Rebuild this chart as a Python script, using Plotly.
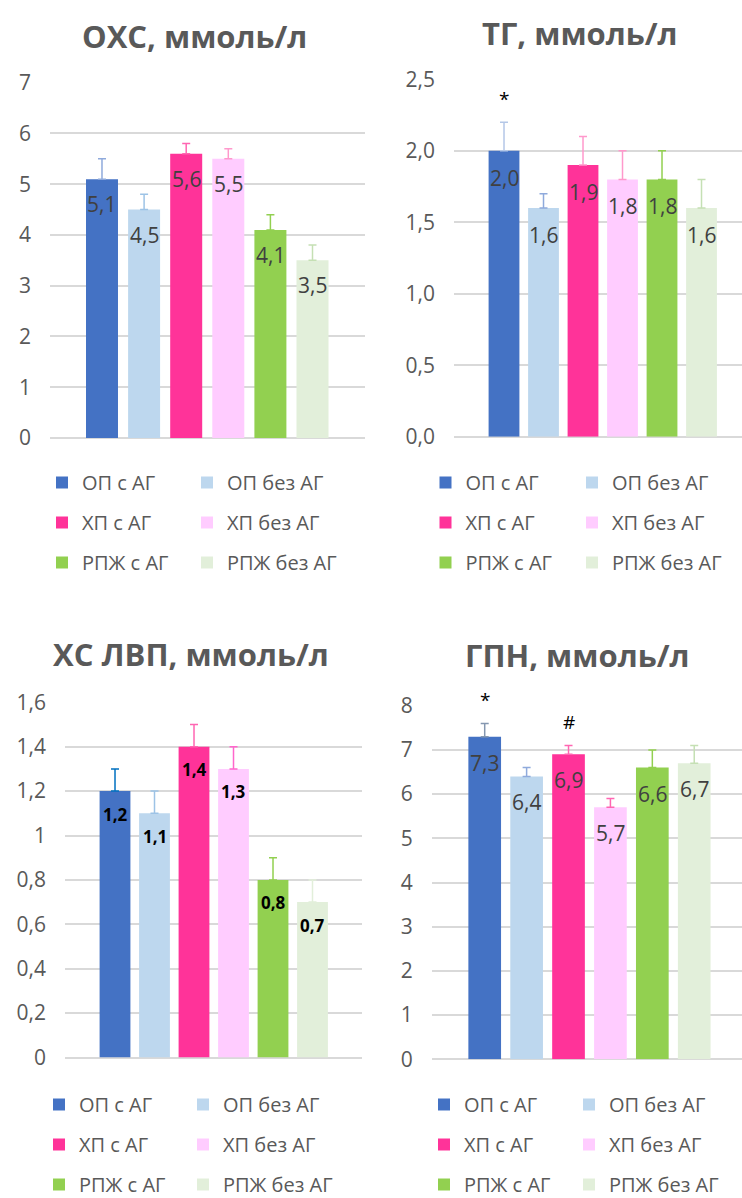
import plotly.graph_objects as go

# ---------------- data ----------------
series_names = ["ОП с АГ", "ОП без АГ", "ХП с АГ", "ХП без АГ", "РПЖ с АГ", "РПЖ без АГ"]
bar_colors = ["#4472C4", "#BDD7EE", "#FF3399", "#FFCCFF", "#92D050", "#E2EFDA"]

ohs_values = [5.1, 4.5, 5.6, 5.5, 4.1, 3.5]
ohs_err = [0.4, 0.3, 0.2, 0.2, 0.3, 0.3]
ohs_marks = ["", "", "", "", "", ""]

tg_values = [2.0, 1.6, 1.9, 1.8, 1.8, 1.6]
tg_err = [0.2, 0.1, 0.2, 0.2, 0.2, 0.2]
tg_marks = ["*", "", "", "", "", ""]

hdl_values = [1.2, 1.1, 1.4, 1.3, 0.8, 0.7]
hdl_err = [0.1, 0.1, 0.1, 0.1, 0.1, 0.1]
hdl_marks = ["", "", "", "", "", ""]

gpn_values = [7.3, 6.4, 6.9, 5.7, 6.6, 6.7]
gpn_err = [0.3, 0.2, 0.2, 0.2, 0.4, 0.4]
gpn_marks = ["*", "", "#", "", "", ""]

ohs_ticks = [0, 1, 2, 3, 4, 5, 6, 7]
ohs_ticktext = ["0", "1", "2", "3", "4", "5", "6", "7"]
tg_ticks = [0, 0.5, 1.0, 1.5, 2.0, 2.5]
tg_ticktext = ["0,0", "0,5", "1,0", "1,5", "2,0", "2,5"]
hdl_ticks = [0, 0.2, 0.4, 0.6, 0.8, 1.0, 1.2, 1.4, 1.6]
hdl_ticktext = ["0", "0,2", "0,4", "0,6", "0,8", "1", "1,2", "1,4", "1,6"]
gpn_ticks = [0, 1, 2, 3, 4, 5, 6, 7, 8]
gpn_ticktext = ["0", "1", "2", "3", "4", "5", "6", "7", "8"]

titles = ["ОХС, ммоль/л", "ТГ, ммоль/л", "ХС ЛВП, ммоль/л", "ГПН, ммоль/л"]

# ---------------- layout config ----------------
W, H = 742, 1198
FONT = "Open Sans"
GRAY = "#595959"

def px_x(p):
    return p / W

def px_y(p):
    return 1 - p / H

panels = [
    dict(values=ohs_values, err=ohs_err, marks=ohs_marks, ticks=ohs_ticks, ticktext=ohs_ticktext,
         yrange=[0, 7], xdom=[px_x(50), px_x(365)], ydom=[px_y(438), px_y(82.7)],
         xrange=[-1.235, 6.247], width=0.76,
         err_colors=["#8FAADC", "#9DC3E6", "#FF66B2", "#FF99CC", "#92D050", "#C5E0B4"],
         lbl=dict(size=21, color="#404040", bold=False, shift=-25),
         title_xy=(194, 36), legend_x=(42, 187), legend_y=463),
    dict(values=tg_values, err=tg_err, marks=tg_marks, ticks=tg_ticks, ticktext=tg_ticktext,
         yrange=[0, 2.5], xdom=[px_x(454), 1.0], ydom=[px_y(436.8), px_y(79.3)],
         xrange=[-1.266, 6.025], width=0.78,
         err_colors=["#B4C7E7", "#8FAADC", "#FF99CC", "#FF99CC", "#92D050", "#C5E0B4"],
         lbl=dict(size=21, color="#404040", bold=False, shift=-27),
         title_xy=(580, 33), legend_x=(425.5, 572), legend_y=463),
    dict(values=hdl_values, err=hdl_err, marks=hdl_marks, ticks=hdl_ticks, ticktext=hdl_ticktext,
         yrange=[0, 1.6], xdom=[px_x(65), px_x(362)], ydom=[px_y(1057.5), px_y(702.3)],
         xrange=[-1.266, 6.253], width=0.78,
         err_colors=["#0070C0", "#9DC3E6", "#FF66B2", "#FF66CC", "#92D050", "#E2EFDA"],
         lbl=dict(size=17, color="#000000", bold=True, shift=-23),
         title_xy=(191, 654), legend_x=(39, 183), legend_y=1085),
    dict(values=gpn_values, err=gpn_err, marks=gpn_marks, ticks=gpn_ticks, ticktext=gpn_ticktext,
         yrange=[0, 8], xdom=[px_x(431.7), 1.0], ydom=[px_y(1059.3), px_y(705.7)],
         xrange=[-1.265, 6.14], width=0.78,
         err_colors=["#8497B0", "#8FAADC", "#FF66B2", "#FF66B2", "#92D050", "#C5E0B4"],
         lbl=dict(size=21, color="#404040", bold=False, shift=-26),
         title_xy=(577, 655), legend_x=(424, 569), legend_y=1085),
]

fig = go.Figure()
annotations = []
layout_extra = {}

for pi, p in enumerate(panels):
    ax = "" if pi == 0 else str(pi + 1)
    xa, ya = "x" + ax, "y" + ax
    for si, name in enumerate(series_names):
        col = si % 2  # 0: "с АГ", 1: "без АГ"
        leg_idx = 2 * pi + col + 1
        leg = "legend" if leg_idx == 1 else "legend" + str(leg_idx)
        fig.add_trace(go.Bar(
            x=[name], y=[p["values"][si]],
            name=name,
            marker=dict(color=bar_colors[si], line=dict(width=0)),
            width=p["width"],
            error_y=dict(type="data", symmetric=False, array=[p["err"][si]], arrayminus=[0],
                         color=p["err_colors"][si], thickness=1.5, width=4),
            xaxis=xa, yaxis=ya,
            legend=leg, legendgroup=f"g{pi}_{si}",
            showlegend=True, hoverinfo="skip",
        ))
        txt = f"{p['values'][si]:.1f}".replace(".", ",")
        if p["lbl"]["bold"]:
            txt = "<b>" + txt + "</b>"
        annotations.append(dict(
            x=name, y=p["values"][si], xref=xa, yref=ya,
            text=txt, showarrow=False, yanchor="middle", yshift=p["lbl"]["shift"],
            font=dict(family=FONT, size=p["lbl"]["size"], color=p["lbl"]["color"]),
        ))
        if p["marks"][si]:
            annotations.append(dict(
                x=name, y=p["values"][si] + p["err"][si], xref=xa, yref=ya,
                text=p["marks"][si], showarrow=False, yanchor="middle", yshift=23,
                font=dict(family=FONT, size=19, color="#000000"),
            ))
    layout_extra["xaxis" + ax] = dict(
        domain=p["xdom"], range=p["xrange"], type="category",
        categoryorder="array", categoryarray=series_names,
        showticklabels=False, showgrid=False, zeroline=False, showline=False, ticks="",
        anchor=ya, fixedrange=True,
    )
    layout_extra["yaxis" + ax] = dict(
        domain=p["ydom"], range=p["yrange"], tickvals=p["ticks"], ticktext=p["ticktext"],
        showgrid=True, gridcolor="#D9D9D9", gridwidth=1.5, zeroline=True, zerolinecolor="#D9D9D9",
        zerolinewidth=1.5, showline=False, ticks="", ticklabelstandoff=18,
        tickfont=dict(family=FONT, size=21, color=GRAY), anchor=xa, fixedrange=True,
    )
    annotations.append(dict(
        x=px_x(p["title_xy"][0]), y=px_y(p["title_xy"][1]), xref="paper", yref="paper",
        text="<b>" + titles[pi] + "</b>", showarrow=False, xanchor="center", yanchor="middle",
        font=dict(family=FONT, size=31, color=GRAY),
    ))
    for col in range(2):
        leg_idx = 2 * pi + col + 1
        leg = "legend" if leg_idx == 1 else "legend" + str(leg_idx)
        layout_extra[leg] = dict(
            x=px_x(p["legend_x"][col]), y=px_y(p["legend_y"]), xref="paper", yref="paper",
            xanchor="left", yanchor="top", orientation="v",
            font=dict(family=FONT, size=20, color=GRAY), bgcolor="rgba(0,0,0,0)",
            borderwidth=0, tracegroupgap=11, itemclick=False, itemdoubleclick=False,
        )

fig.update_layout(
    width=W, height=H, margin=dict(l=0, r=0, t=0, b=0, autoexpand=False),
    paper_bgcolor="white", plot_bgcolor="white",
    barmode="overlay", showlegend=True,
    annotations=annotations,
    font=dict(family=FONT),
    **layout_extra,
)

fig.write_html("out.html",
               config={"displayModeBar": False, "staticPlot": False},
               post_script="document.body.style.margin='0';document.body.style.overflow='hidden';")
